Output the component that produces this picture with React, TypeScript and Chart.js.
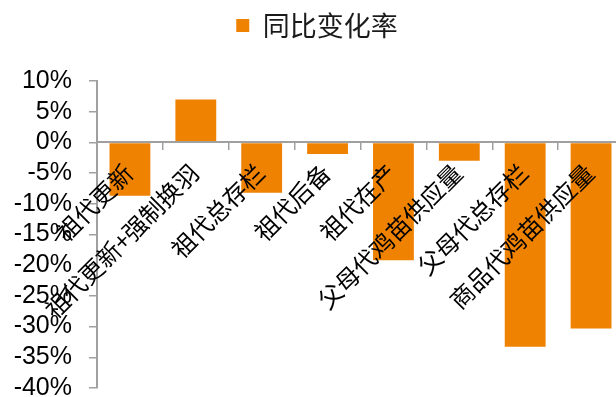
import React, { useEffect, useRef } from 'react';
import { Chart, registerables } from 'chart.js';

Chart.register(...registerables);

const categories = [
  '祖代更新',
  '祖代更新+强制换羽',
  '祖代总存栏',
  '祖代后备',
  '祖代在产',
  '父母代鸡苗供应量',
  '父母代总存栏',
  '商品代鸡苗供应量',
];
const changeRates = [-8.7, 7.0, -8.2, -1.9, -19.2, -3.0, -33.3, -30.3];
const seriesName = '同比变化率';
const yMin = -40;
const yMax = 10;
const yStep = 5;

const ORANGE = '#EF8200';
const AXIS_GRAY = '#A0A0A0';

const legendSpacer = {
  id: 'legendSpacer',
  beforeInit(chart: any) {
    const originalFit = chart.legend.fit;
    chart.legend.fit = function fit() {
      originalFit.bind(chart.legend)();
      this.height += 32;
    };
  },
};

export default function App() {
  const canvasRef = useRef<HTMLCanvasElement | null>(null);

  useEffect(() => {
    if (!canvasRef.current) return;
    const chart = new Chart(canvasRef.current, {
      type: 'bar',
      data: {
        labels: categories,
        datasets: [
          {
            label: seriesName,
            data: changeRates,
            backgroundColor: ORANGE,
            borderWidth: 0,
            categoryPercentage: 1,
            barPercentage: 0.62,
          },
        ],
      },
      plugins: [legendSpacer],
      options: {
        responsive: false,
        animation: false,
        devicePixelRatio: 1,
        layout: { padding: { left: 10, right: 0, top: 2, bottom: 0 } },
        plugins: {
          legend: {
            display: true,
            position: 'top',
            labels: {
              boxWidth: 13,
              boxHeight: 13,
              color: '#1a1a1a',
              padding: 10,
              font: { family: '"Noto Sans CJK SC", sans-serif', size: 27 },
            },
          },
          tooltip: { enabled: false },
        },
        scales: {
          x: {
            position: { y: 0 } as any,
            offset: true,
            grid: {
              display: true,
              drawOnChartArea: false,
              offset: true,
              tickLength: 7,
              color: AXIS_GRAY,
              lineWidth: 1.5,
            },
            border: { display: true, color: AXIS_GRAY, width: 2, z: 1 } as any,
            ticks: {
              z: 2,
              autoSkip: false,
              minRotation: 45,
              maxRotation: 45,
              padding: 9,
              labelOffset: -1.5,
              color: '#000',
              font: { family: '"Noto Sans CJK SC", serif', size: 24 },
            },
          },
          y: {
            min: yMin,
            max: yMax,
            afterFit: (scale: any) => {
              scale.width = 87;
            },
            grid: {
              display: true,
              drawOnChartArea: false,
              tickLength: 8,
              color: AXIS_GRAY,
              lineWidth: 1.5,
            },
            border: { display: true, color: AXIS_GRAY, width: 2 },
            ticks: {
              stepSize: yStep,
              padding: 17,
              color: '#000',
              font: { family: '"Liberation Sans", Arial, sans-serif', size: 25 },
              callback: (v: any) => `${v}%`,
            },
          },
        },
      },
    });
    return () => chart.destroy();
  }, []);

  return (
    <div
      style={{
        position: 'fixed',
        left: 0,
        top: 0,
        width: 616,
        height: 397,
        overflow: 'hidden',
        background: '#fff',
      }}
    >
      <canvas ref={canvasRef} width={624} height={420} style={{ display: 'block' }} />
    </div>
  );
}
